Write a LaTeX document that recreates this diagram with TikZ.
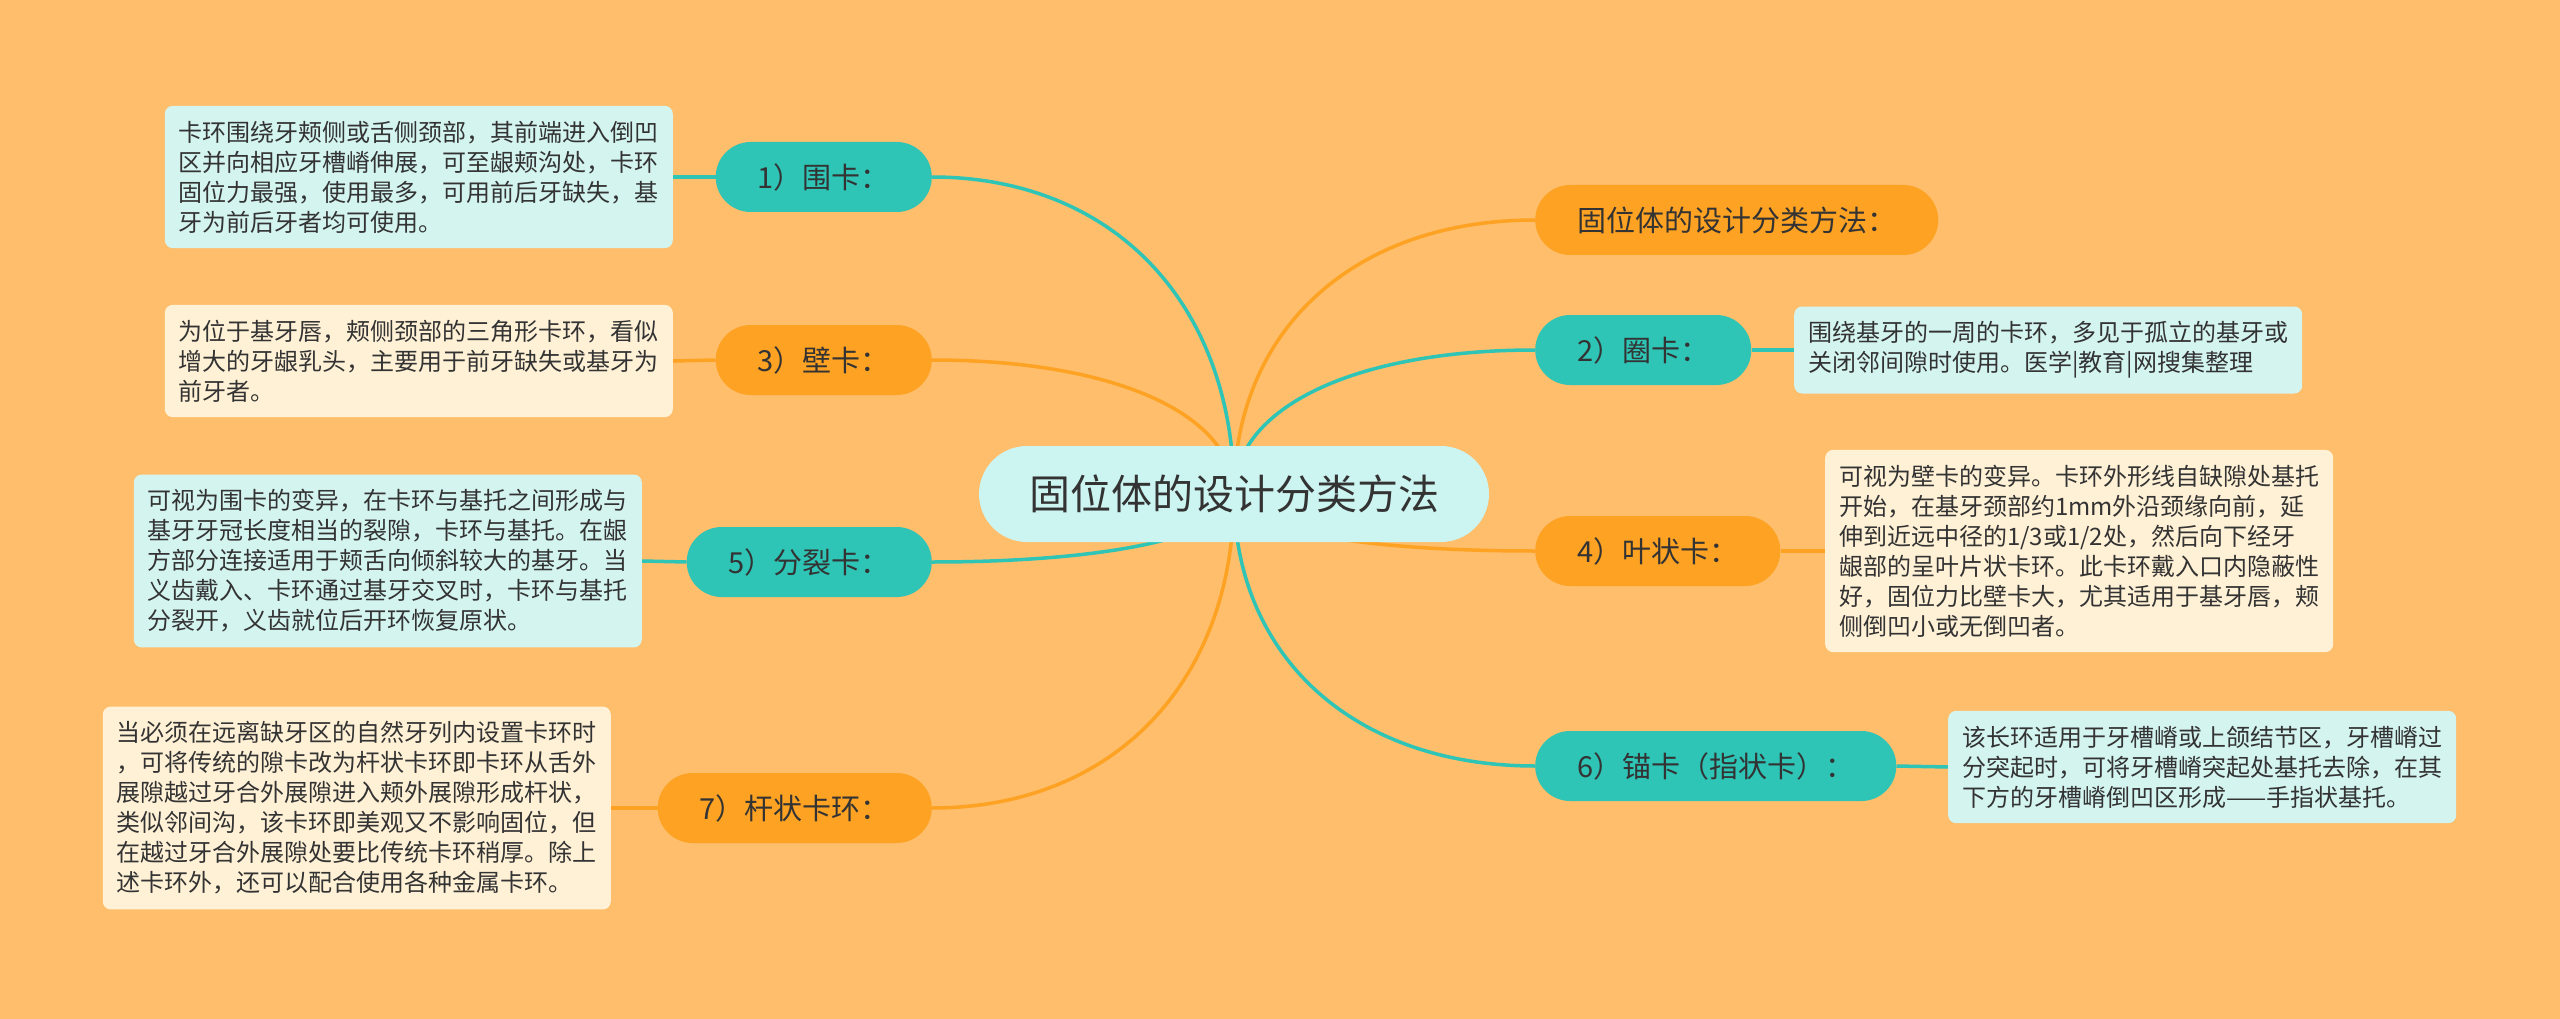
\documentclass[tikz,border=0pt]{standalone}
\usepackage{fontspec}
\setmainfont{Noto Sans CJK SC}
\usetikzlibrary{calc,backgrounds}
\definecolor{bgorange}{HTML}{FEBE6B}
\definecolor{mmteal}{HTML}{2EC4B6}
\definecolor{mmorange}{HTML}{FDA222}
\definecolor{paleteal}{HTML}{D4F4F0}
\definecolor{palecream}{HTML}{FFF1D6}
\definecolor{rootfill}{HTML}{CCF4F0}
\definecolor{inkgray}{HTML}{333333}

\begin{document}
\begin{tikzpicture}[x=1pt,y=-1pt,
  rootnode/.style={fill=rootfill, rounded corners=48pt, minimum height=96pt, inner xsep=50pt, text=inkgray, font=\fontsize{41}{48}\selectfont},
  topicnode/.style={rounded corners=35pt, minimum height=70pt, inner xsep=42pt, text=inkgray, font=\fontsize{29}{35}\selectfont},
  tealtopic/.style={topicnode, fill=mmteal},
  orangetopic/.style={topicnode, fill=mmorange},
  notebox/.style={rounded corners=8pt, text width=480pt, align=left, inner xsep=14pt, inner ysep=15pt, text=inkgray, font=\fontsize{24}{30}\selectfont},
  tealnote/.style={notebox, fill=paleteal},
  orangenote/.style={notebox, fill=palecream},
  tealline/.style={draw=mmteal, line width=3.5pt},
  orangeline/.style={draw=mmorange, line width=3.5pt}]
\useasboundingbox (0,0) rectangle (2560,1019);

\node[rootnode] (root) at (1234,494) {固位体的设计分类方法};

% left side
\node[tealtopic, anchor=east] (wei) at (932,177) {1）围卡：};
\node[orangetopic, anchor=east] (bi) at (932,360) {3）壁卡：};
\node[tealtopic, anchor=east] (fenlie) at (932,562) {5）分裂卡：};
\node[orangetopic, anchor=east] (ganzhuang) at (932,808) {7）杆状卡环：};

% right side
\node[orangetopic, anchor=west] (fangfa) at (1535,220) {固位体的设计分类方法：};
\node[tealtopic, anchor=west] (quan) at (1535,350) {2）圈卡：};
\node[orangetopic, anchor=west] (yezhuang) at (1535,551) {4）叶状卡：};
\node[tealtopic, anchor=west] (mao) at (1535,766) {6）锚卡（指状卡）：};

% notes
\node[tealnote, anchor=east] (weinote) at (673,177) {卡环围绕牙颊侧或舌侧颈部，其前端进入倒凹\\区并向相应牙槽嵴伸展，可至龈颊沟处，卡环\\固位力最强，使用最多，可用前后牙缺失，基\\牙为前后牙者均可使用。};
\node[orangenote, anchor=east] (binote) at (673,361) {为位于基牙唇，颊侧颈部的三角形卡环，看似\\增大的牙龈乳头，主要用于前牙缺失或基牙为\\前牙者。};
\node[tealnote, anchor=east] (fenlienote) at (642,561) {可视为围卡的变异，在卡环与基托之间形成与\\基牙牙冠长度相当的裂隙，卡环与基托。在龈\\方部分连接适用于颊舌向倾斜较大的基牙。当\\义齿戴入、卡环通过基牙交叉时，卡环与基托\\分裂开，义齿就位后开环恢复原状。};
\node[orangenote, anchor=east] (ganzhuangnote) at (611,808) {当必须在远离缺牙区的自然牙列内设置卡环时\\，可将传统的隙卡改为杆状卡环即卡环从舌外\\展隙越过牙合外展隙进入颊外展隙形成杆状，\\类似邻间沟，该卡环即美观又不影响固位，但\\在越过牙合外展隙处要比传统卡环稍厚。除上\\述卡环外，还可以配合使用各种金属卡环。};
\node[tealnote, anchor=west] (quannote) at (1794,350) {围绕基牙的一周的卡环，多见于孤立的基牙或\\关闭邻间隙时使用。医学|教育|网搜集整理};
\node[orangenote, anchor=west] (yezhuangnote) at (1825,551) {可视为壁卡的变异。卡环外形线自缺隙处基托\\开始，在基牙颈部约1mm外沿颈缘向前，延\\伸到近远中径的1/3或1/2处，然后向下经牙\\龈部的呈叶片状卡环。此卡环戴入口内隐蔽性\\好，固位力比壁卡大，尤其适用于基牙唇，颊\\侧倒凹小或无倒凹者。};
\node[tealnote, anchor=west] (maonote) at (1948,767) {该长环适用于牙槽嵴或上颌结节区，牙槽嵴过\\分突起时，可将牙槽嵴突起处基托去除，在其\\下方的牙槽嵴倒凹区形成——手指状基托。};

\begin{pgfonlayer}{background}
\fill[bgorange] (0,0) rectangle (2560,1019);
% curved branches from the root
\foreach \tgt/\col in {wei.east/tealline, bi.east/orangeline, fenlie.east/tealline, ganzhuang.east/orangeline, fangfa.west/orangeline, quan.west/tealline, yezhuang.west/orangeline, mao.west/tealline}
  \draw[\col] (root.center) .. controls ($(root.center)!0.6!(root.center|-\tgt)$) and ($(\tgt)!0.6!(\tgt-|root.center)$) .. (\tgt);
% topic to note
\foreach \from/\to/\col in {wei.west/weinote.east/tealline, bi.west/binote.east/orangeline, fenlie.west/fenlienote.east/tealline, ganzhuang.west/ganzhuangnote.east/orangeline, quan.east/quannote.west/tealline, yezhuang.east/yezhuangnote.west/orangeline, mao.east/maonote.west/tealline}
  \draw[\col] (\from) -- (\to);
\end{pgfonlayer}
\end{tikzpicture}
\end{document}
